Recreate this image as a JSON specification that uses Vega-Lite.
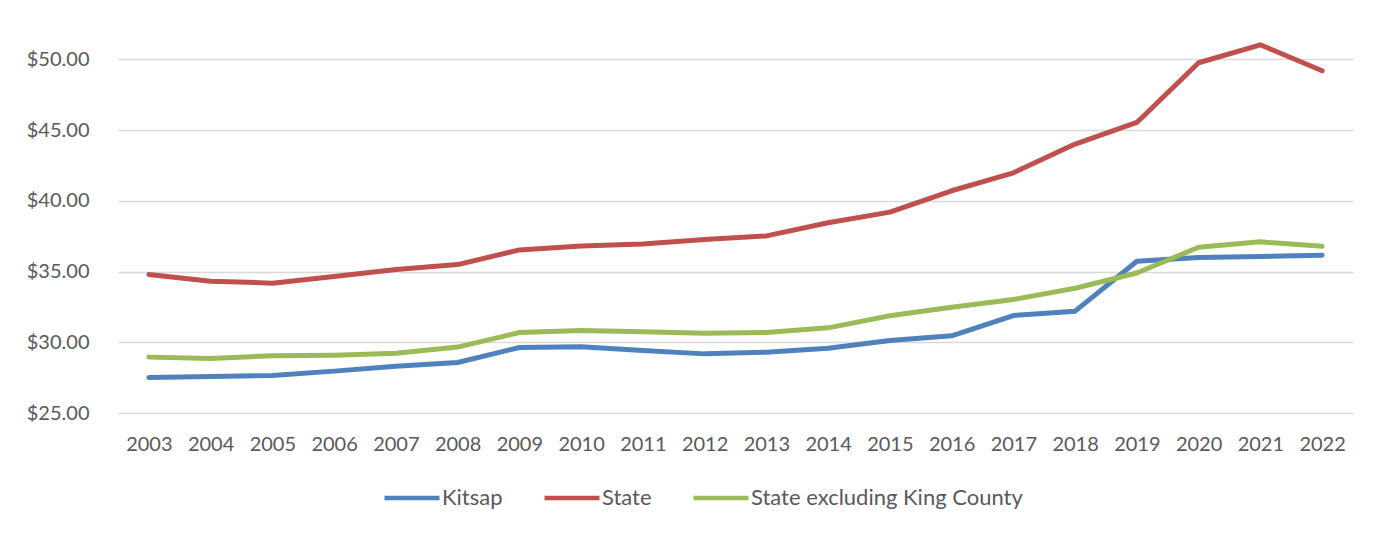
{
  "$schema": "https://vega.github.io/schema/vega-lite/v6.json",
  "width": 1235,
  "height": 389,
  "autosize": "none",
  "padding": {"left": 118, "top": 24, "right": 33, "bottom": 122},
  "background": "white",
  "config": {
    "view": {"stroke": null},
    "font": "Lato",
    "axis": {"labelFont": "Lato", "labelFontSize": 20, "labelColor": "#595959", "ticks": false, "domain": false},
    "legend": {"labelFont": "Lato", "labelFontSize": 22, "labelColor": "#595959", "labelLimit": 500}
  },
  "data": {
    "values": [
      {"year": "2003", "series": "Kitsap", "value": 27.51},
      {"year": "2004", "series": "Kitsap", "value": 27.58},
      {"year": "2005", "series": "Kitsap", "value": 27.65},
      {"year": "2006", "series": "Kitsap", "value": 27.96},
      {"year": "2007", "series": "Kitsap", "value": 28.31},
      {"year": "2008", "series": "Kitsap", "value": 28.57},
      {"year": "2009", "series": "Kitsap", "value": 29.63},
      {"year": "2010", "series": "Kitsap", "value": 29.68},
      {"year": "2011", "series": "Kitsap", "value": 29.42},
      {"year": "2012", "series": "Kitsap", "value": 29.18},
      {"year": "2013", "series": "Kitsap", "value": 29.30},
      {"year": "2014", "series": "Kitsap", "value": 29.58},
      {"year": "2015", "series": "Kitsap", "value": 30.13},
      {"year": "2016", "series": "Kitsap", "value": 30.46},
      {"year": "2017", "series": "Kitsap", "value": 31.89},
      {"year": "2018", "series": "Kitsap", "value": 32.20},
      {"year": "2019", "series": "Kitsap", "value": 35.73},
      {"year": "2020", "series": "Kitsap", "value": 35.99},
      {"year": "2021", "series": "Kitsap", "value": 36.06},
      {"year": "2022", "series": "Kitsap", "value": 36.15},
      {"year": "2003", "series": "State", "value": 34.79},
      {"year": "2004", "series": "State", "value": 34.32},
      {"year": "2005", "series": "State", "value": 34.18},
      {"year": "2006", "series": "State", "value": 34.65},
      {"year": "2007", "series": "State", "value": 35.14},
      {"year": "2008", "series": "State", "value": 35.49},
      {"year": "2009", "series": "State", "value": 36.53},
      {"year": "2010", "series": "State", "value": 36.81},
      {"year": "2011", "series": "State", "value": 36.95},
      {"year": "2012", "series": "State", "value": 37.26},
      {"year": "2013", "series": "State", "value": 37.52},
      {"year": "2014", "series": "State", "value": 38.45},
      {"year": "2015", "series": "State", "value": 39.20},
      {"year": "2016", "series": "State", "value": 40.71},
      {"year": "2017", "series": "State", "value": 41.98},
      {"year": "2018", "series": "State", "value": 44.01},
      {"year": "2019", "series": "State", "value": 45.54},
      {"year": "2020", "series": "State", "value": 49.76},
      {"year": "2021", "series": "State", "value": 51.03},
      {"year": "2022", "series": "State", "value": 49.19},
      {"year": "2003", "series": "State excluding King County", "value": 28.95},
      {"year": "2004", "series": "State excluding King County", "value": 28.86},
      {"year": "2005", "series": "State excluding King County", "value": 29.04},
      {"year": "2006", "series": "State excluding King County", "value": 29.09},
      {"year": "2007", "series": "State excluding King County", "value": 29.23},
      {"year": "2008", "series": "State excluding King County", "value": 29.66},
      {"year": "2009", "series": "State excluding King County", "value": 30.69},
      {"year": "2010", "series": "State excluding King County", "value": 30.83},
      {"year": "2011", "series": "State excluding King County", "value": 30.74},
      {"year": "2012", "series": "State excluding King County", "value": 30.63},
      {"year": "2013", "series": "State excluding King County", "value": 30.69},
      {"year": "2014", "series": "State excluding King County", "value": 31.02},
      {"year": "2015", "series": "State excluding King County", "value": 31.87},
      {"year": "2016", "series": "State excluding King County", "value": 32.48},
      {"year": "2017", "series": "State excluding King County", "value": 33.02},
      {"year": "2018", "series": "State excluding King County", "value": 33.82},
      {"year": "2019", "series": "State excluding King County", "value": 34.90},
      {"year": "2020", "series": "State excluding King County", "value": 36.72},
      {"year": "2021", "series": "State excluding King County", "value": 37.10},
      {"year": "2022", "series": "State excluding King County", "value": 36.79}
    ]
  },
  "mark": {"type": "line", "strokeWidth": 5, "strokeCap": "round", "strokeJoin": "round"},
  "encoding": {
    "x": {
      "field": "year", "type": "ordinal",
      "scale": {"type": "point", "padding": 0.5},
      "axis": {"title": null, "labelAngle": 0, "labelPadding": 21, "grid": false}
    },
    "y": {
      "field": "value", "type": "quantitative",
      "scale": {"domain": [25, 52.5], "nice": false, "zero": false},
      "axis": {
        "title": null, "values": [25, 30, 35, 40, 45, 50], "format": "$.2f",
        "labelPadding": 29, "grid": true, "gridColor": "#D9D9D9", "gridWidth": 1.5
      }
    },
    "color": {
      "field": "series", "type": "nominal",
      "scale": {
        "domain": ["Kitsap", "State", "State excluding King County"],
        "range": ["#4F81BD", "#C0504D", "#9BBB59"]
      },
      "legend": {
        "title": null, "orient": "none", "direction": "horizontal",
        "legendX": 264, "legendY": 444,
        "symbolType": "stroke", "symbolSize": 3025, "symbolStrokeWidth": 4.5,
        "labelOffset": 0, "columnPadding": 32, "padding": 0
      }
    }
  }
}
